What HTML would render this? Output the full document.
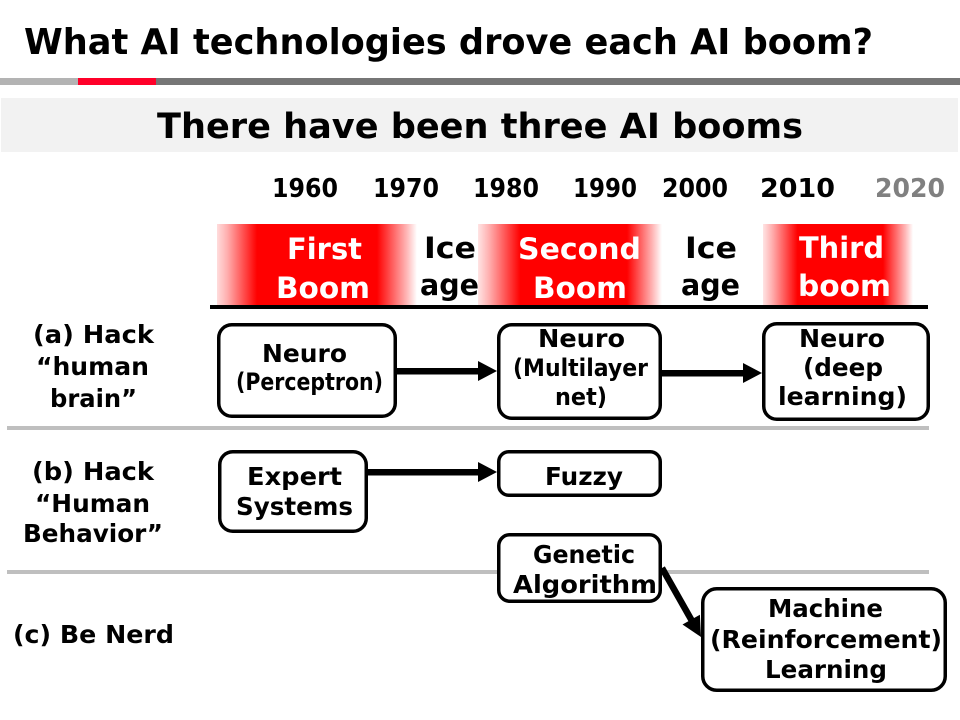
<!DOCTYPE html>
<html>
<head>
<meta charset="utf-8">
<style>
  html,body{margin:0;padding:0;background:#fff;}
  svg{display:block;}
  text{font-family:"DejaVu Sans","Liberation Sans",sans-serif;font-weight:bold;}
</style>
</head>
<body>
<svg width="960" height="720" viewBox="0 0 960 720" xmlns="http://www.w3.org/2000/svg">
  <defs>
    <linearGradient id="g1" x1="0" y1="0" x2="1" y2="0">
      <stop offset="0" stop-color="#ffdcdc"/>
      <stop offset="0.05" stop-color="#ffb0b0"/>
      <stop offset="0.2" stop-color="#ff0000"/>
      <stop offset="0.8" stop-color="#ff0000"/>
      <stop offset="0.95" stop-color="#ffb8b8"/>
      <stop offset="1" stop-color="#ffffff"/>
    </linearGradient>
    <linearGradient id="g2" x1="0" y1="0" x2="1" y2="0">
      <stop offset="0" stop-color="#ffe4e4"/>
      <stop offset="0.06" stop-color="#ffb0b0"/>
      <stop offset="0.23" stop-color="#ff0000"/>
      <stop offset="0.81" stop-color="#ff0000"/>
      <stop offset="0.95" stop-color="#ffb8b8"/>
      <stop offset="1" stop-color="#ffffff"/>
    </linearGradient>
    <linearGradient id="g3" x1="0" y1="0" x2="1" y2="0">
      <stop offset="0" stop-color="#ffe4e4"/>
      <stop offset="0.06" stop-color="#ffb0b0"/>
      <stop offset="0.23" stop-color="#ff0000"/>
      <stop offset="0.8" stop-color="#ff0000"/>
      <stop offset="0.95" stop-color="#ffb8b8"/>
      <stop offset="1" stop-color="#ffffff"/>
    </linearGradient>
  </defs>

  <!-- Title -->
  <text x="24" y="54" font-size="36" fill="#000" textLength="849" lengthAdjust="spacingAndGlyphs">What AI technologies drove each AI boom?</text>

  <!-- Title bar -->
  <rect x="0" y="78" width="78" height="7" fill="#b3b3b3"/>
  <rect x="78" y="78" width="78" height="7" fill="#ff0029"/>
  <rect x="156" y="78" width="804" height="7" fill="#767676"/>

  <!-- Subtitle box -->
  <rect x="1" y="98" width="957" height="54" fill="#f2f2f2"/>
  <text x="157" y="138" font-size="35" fill="#000" textLength="646" lengthAdjust="spacingAndGlyphs">There have been three AI booms</text>

  <!-- Years -->
  <g font-size="26" fill="#000" text-anchor="middle">
    <text x="305" y="197" textLength="66" lengthAdjust="spacingAndGlyphs">1960</text>
    <text x="406" y="197" textLength="66" lengthAdjust="spacingAndGlyphs">1970</text>
    <text x="506" y="197" textLength="66" lengthAdjust="spacingAndGlyphs">1980</text>
    <text x="605" y="197" textLength="64" lengthAdjust="spacingAndGlyphs">1990</text>
    <text x="695" y="197" textLength="66" lengthAdjust="spacingAndGlyphs">2000</text>
    <text x="797.5" y="197" textLength="75" lengthAdjust="spacingAndGlyphs">2010</text>
    <text x="910" y="197" fill="#808080" textLength="70" lengthAdjust="spacingAndGlyphs">2020</text>
  </g>

  <!-- Boom bands -->
  <rect x="217" y="224" width="200" height="81" fill="url(#g1)"/>
  <rect x="478" y="224" width="184" height="81" fill="url(#g2)"/>
  <rect x="763" y="224" width="150" height="81" fill="url(#g3)"/>

  <g font-size="29" text-anchor="middle">
    <text x="324.5" y="259" fill="#fff" textLength="75" lengthAdjust="spacingAndGlyphs">First</text>
    <text x="323" y="298" fill="#fff" textLength="94" lengthAdjust="spacingAndGlyphs">Boom</text>
    <text x="450" y="258" fill="#000" textLength="52" lengthAdjust="spacingAndGlyphs">Ice</text>
    <text x="449.5" y="295" fill="#000" textLength="59" lengthAdjust="spacingAndGlyphs">age</text>
    <text x="579.5" y="259" fill="#fff" textLength="123" lengthAdjust="spacingAndGlyphs">Second</text>
    <text x="580" y="298" fill="#fff" textLength="94" lengthAdjust="spacingAndGlyphs">Boom</text>
    <text x="711" y="258" fill="#000" textLength="52" lengthAdjust="spacingAndGlyphs">Ice</text>
    <text x="710.5" y="295" fill="#000" textLength="59" lengthAdjust="spacingAndGlyphs">age</text>
    <text x="841.5" y="258" fill="#fff" textLength="85" lengthAdjust="spacingAndGlyphs">Third</text>
    <text x="844.5" y="296" fill="#fff" textLength="93" lengthAdjust="spacingAndGlyphs">boom</text>
  </g>

  <!-- Timeline line -->
  <rect x="210" y="305" width="718" height="4" fill="#000"/>

  <!-- Separators -->
  <rect x="7" y="426" width="922" height="4" fill="#bfbfbf"/>
  <rect x="7" y="570" width="922" height="4" fill="#bfbfbf"/>

  <!-- Row labels -->
  <g font-size="25" fill="#000" text-anchor="middle">
    <text x="93.5" y="343" textLength="121" lengthAdjust="spacingAndGlyphs">(a) Hack</text>
    <text x="92.5" y="375" textLength="113" lengthAdjust="spacingAndGlyphs">“human</text>
    <text x="93.5" y="407" textLength="87" lengthAdjust="spacingAndGlyphs">brain”</text>
    <text x="93" y="480" textLength="122" lengthAdjust="spacingAndGlyphs">(b) Hack</text>
    <text x="92.5" y="512" textLength="115" lengthAdjust="spacingAndGlyphs">“Human</text>
    <text x="93" y="542" textLength="140" lengthAdjust="spacingAndGlyphs">Behavior”</text>
    <text x="93.5" y="643" textLength="161" lengthAdjust="spacingAndGlyphs">(c) Be Nerd</text>
  </g>

  <!-- Boxes -->
  <g fill="#fff" stroke="#000" stroke-width="3.5">
    <rect x="218.75" y="324.75" width="176.5" height="91.5" rx="13"/>
    <rect x="498.75" y="324.75" width="161.5" height="93.5" rx="13"/>
    <rect x="763.75" y="323.75" width="164.5" height="95.5" rx="13"/>
    <rect x="219.75" y="451.75" width="146.5" height="79.5" rx="13"/>
    <rect x="498.75" y="451.75" width="161.5" height="43.5" rx="10"/>
    <rect x="498.75" y="534.75" width="161.5" height="66.5" rx="11"/>
    <rect x="702.75" y="588.75" width="242.5" height="101.5" rx="14"/>
  </g>

  <!-- Box texts -->
  <g font-size="25" fill="#000" text-anchor="middle">
    <text x="304.5" y="362" textLength="85" lengthAdjust="spacingAndGlyphs">Neuro</text>
    <text x="309.5" y="390" font-size="24" textLength="147" lengthAdjust="spacingAndGlyphs">(Perceptron)</text>

    <text x="581.5" y="347" textLength="87" lengthAdjust="spacingAndGlyphs">Neuro</text>
    <text x="580.5" y="376" font-size="24" textLength="135" lengthAdjust="spacingAndGlyphs">(Multilayer</text>
    <text x="581" y="405" font-size="24" textLength="52" lengthAdjust="spacingAndGlyphs">net)</text>

    <text x="842" y="347" textLength="86" lengthAdjust="spacingAndGlyphs">Neuro</text>
    <text x="843" y="376" textLength="80" lengthAdjust="spacingAndGlyphs">(deep</text>
    <text x="842.5" y="405" textLength="129" lengthAdjust="spacingAndGlyphs">learning)</text>

    <text x="294.5" y="485" textLength="95" lengthAdjust="spacingAndGlyphs">Expert</text>
    <text x="294.5" y="515" textLength="117" lengthAdjust="spacingAndGlyphs">Systems</text>

    <text x="584" y="485" textLength="78" lengthAdjust="spacingAndGlyphs">Fuzzy</text>

    <text x="584" y="563" textLength="102" lengthAdjust="spacingAndGlyphs">Genetic</text>
    <text x="585" y="593" textLength="144" lengthAdjust="spacingAndGlyphs">Algorithm</text>

    <text x="825.5" y="617" textLength="115" lengthAdjust="spacingAndGlyphs">Machine</text>
    <text x="826" y="648" textLength="232" lengthAdjust="spacingAndGlyphs">(Reinforcement)</text>
    <text x="826" y="678" textLength="122" lengthAdjust="spacingAndGlyphs">Learning</text>
  </g>

  <!-- Arrows -->
  <g fill="#000">
    <rect x="397" y="368" width="83" height="6.5"/>
    <polygon points="478,361 497,371 478,381"/>
    <rect x="661" y="370" width="84" height="6.5"/>
    <polygon points="743,363 762,373 743,383"/>
    <rect x="368" y="469" width="112" height="6.5"/>
    <polygon points="478,462 497,472 478,482"/>
    <line x1="662" y1="568" x2="692" y2="621" stroke="#000" stroke-width="6.5"/>
    <polygon points="682.5,624.5 699.9,614.7 701,637"/>
  </g>
</svg>
</body>
</html>
